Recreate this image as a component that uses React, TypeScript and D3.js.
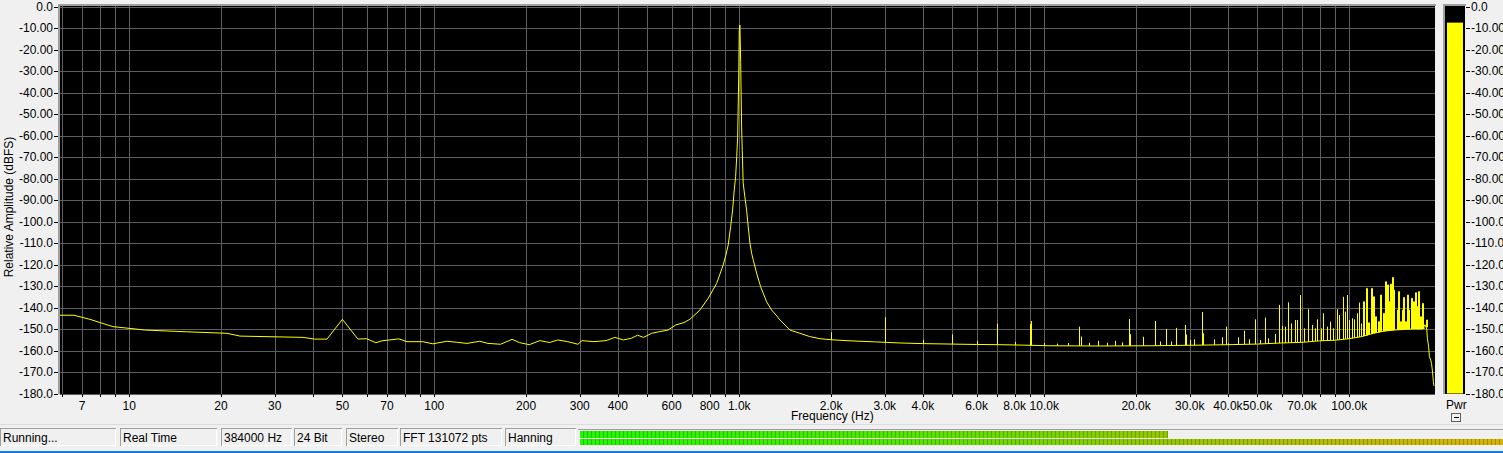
import React from 'react';
import * as d3 from 'd3';

// ---------- data ----------
const baselineHz = [5.93, 6.59, 7.43, 8.84, 11.3, 15.4, 20.9, 23.1, 37.1, 40.6, 44.5, 50, 56.2, 60, 64.4, 67.4, 76.6, 81.4, 91.8, 99, 110, 119, 128, 141, 150, 165, 180, 190, 205, 222, 239, 254, 274, 296, 305, 334, 366, 391, 417, 443, 464, 486, 516, 549, 584, 620, 659, 689, 743, 791, 843, 886, 904, 920, 937, 951, 963, 973, 981, 988, 996, 1000, 1005, 1011, 1018, 1023, 1030, 1043, 1057, 1070, 1084, 1098, 1112, 1140, 1175, 1229, 1277, 1320, 1360, 1466, 1581, 1700, 1839, 2000, 2307, 2800, 3365, 4000, 4908, 6000, 7158, 8500, 10440, 15225, 22213, 32397, 40000, 50000, 60000, 70000, 80000, 90000, 100000, 110000, 120000, 130000, 140000, 160000, 174000, 177000, 179500, 180300, 182000, 183100, 184900, 186000, 187200, 188700, 189500];
const baselineDb = [-143.6, -143.6, -145.5, -148.9, -150.5, -151.3, -152, -153.3, -153.9, -154.7, -154.7, -145.5, -154.7, -154.5, -156.4, -155.5, -154.6, -155.9, -155.9, -156.9, -155.7, -156.2, -156.7, -155.7, -156.7, -157.1, -154.8, -156.3, -157.3, -155.4, -156.3, -155.1, -155.9, -157.1, -155.4, -155.9, -155.4, -153.9, -155.1, -154.3, -152.9, -153.9, -152, -151.2, -150.5, -148.1, -147, -145.5, -141.2, -135.7, -128.8, -120.2, -115.6, -110.9, -102.4, -94.6, -85.3, -79.1, -69.8, -61, -32.3, -11, -8.6, -26, -56, -67, -82, -88.5, -94.6, -102.4, -110, -114.8, -118, -124, -130.3, -137.3, -141.2, -143.5, -145.8, -150.5, -152, -153.5, -154.5, -155, -155.5, -156, -156.5, -156.8, -157, -157.2, -157.3, -157.5, -157.8, -157.9, -157.8, -157.5, -157.3, -157, -156.5, -156.2, -155.5, -155.2, -154.5, -153.5, -152, -151, -150.5, -150, -150, -148, -150, -154.3, -158, -162.9, -164.4, -166, -169.1, -174.5, -176.5];

const spikeHz = [2000, 3000, 4000, 5000, 6000, 7000, 8000, 8990, 9060, 10000, 11000, 12000, 13000, 13150, 14000, 15000, 16000, 17000, 18000, 19000, 19150, 21000, 23000, 23150, 24000, 25000, 25150, 26000, 27000, 29000, 29200, 30000, 31000, 33000, 33200,
  36000, 38200, 39300, 40100, 43300, 45300, 47000, 49200, 51000, 52900, 54300, 57100, 59000, 60000, 61600, 63100, 64200, 66400, 67600, 68900, 71000, 73400, 75300, 77200, 78600, 80600, 82200, 84300, 86500, 88200, 90900, 92800, 95100, 96800, 98300, 100000, 102100, 103600, 105700, 107300, 109300, 111200, 113200, 115500, 117500, 119300, 121400, 123900, 126100, 128700, 131000, 132600, 134300, 136000, 137700, 139500, 143000, 144800, 146700, 148500, 150400, 152300, 154300, 156200, 159000, 161400, 164300, 166300, 168500, 170600, 172800, 174900, 178500];
const spikeDb = [-151.5, -144.5, -155, -152.5, -155.5, -147.5, -156, -147.7, -146.3, -156.5, -156.8, -156.5, -148.9, -153.5, -156.4, -155.5, -156.4, -155.5, -156.2, -145.3, -152.4, -153.6, -146.3, -153.3, -155.8, -150, -153.5, -155.8, -149.5, -148.1, -152.5, -155, -154.8, -142.1, -152,
  -154.8, -153.9, -148.9, -156.7, -153.9, -150.8, -154.8, -145.5, -155.1, -144.7, -154.3, -152.3, -138.8, -148.6, -148.9, -137.6, -147.4, -145.8, -145.8, -134.2, -149.7, -140.8, -148.1, -149.7, -145.5, -149.7, -142.7, -148.9, -146.6, -149.7, -140.8, -143.5, -135, -141.9, -134.2, -145.8, -145, -145.5, -142.7, -137.7, -147.4, -137.3, -131.1, -147.1, -131.1, -135, -144.3, -146.6, -134.2, -142.7, -128, -129.5, -137.3, -129.1, -126, -131.9, -141.2, -132.6, -146.6, -141.2, -135.3, -146.6, -134.2, -141.2, -135.7, -137.3, -133.1, -139.6, -132.6, -144.3, -138.1, -149.7, -145.8];

const yTicks = [0, -10, -20, -30, -40, -50, -60, -70, -80, -90, -100, -110, -120, -130, -140, -150, -160, -170, -180];
const xLabelTicks = [7, 10, 20, 30, 50, 70, 100, 200, 300, 400, 600, 800, 1000, 2000, 3000, 4000, 6000, 8000, 10000, 20000, 30000, 40000, 50000, 70000, 100000];
const gridMultipliers = [1, 2, 3, 4, 5, 6, 7, 8, 9];
const gridDecades = [1, 10, 100, 1000, 10000, 100000];

const pwrLevel = [-7.5];
const statusLabels = ['Running...', 'Real Time', '384000 Hz', '24 Bit', 'Stereo', 'FFT 131072 pts', 'Hanning'];
const statusLevels = [0.636, 1.0];

// ---------- layout ----------
const W = 1503, H = 453;
const PL = 60, PR = 1435, PT = 6, PB = 394;
const FONT = '"Liberation Sans", Arial, sans-serif';

const xScale = d3.scaleLog().domain([5.93, 191000]).range([PL, PR]);
const yScale = d3.scaleLinear().domain([0, -180]).range([6.5, 393.5]);
const mScale = yScale;

const fmtDb = (v: number) => (v === 0 ? '0.0' : Math.abs(v) < 100 ? v.toFixed(2) : v.toFixed(1));
const fmtHz = (v: number) => (v >= 1000 ? (v / 1000).toFixed(1) + 'k' : String(v));

const statusPanels = [[0, 116], [120, 217], [221, 292], [294, 342], [346, 398], [400, 502], [505, 576]];

export default function App() {
  const pts: [number, number][] = baselineHz.map((f, i) => [f, baselineDb[i]]);
  const line = d3.line<[number, number]>().x(d => xScale(d[0])).y(d => yScale(d[1]));
  const baseInterp = d3.scaleLog().domain(baselineHz).range(baselineDb);

  const spikePath = spikeHz.map((f, i) => {
    const x = Math.round(xScale(f)) + 0.5;
    const yb = yScale(baseInterp(f));
    const yt = yScale(spikeDb[i]);
    return f > 110000 ? `M${x},${yb}V${yt}H${x + 1}V${yb}` : `M${x},${yb}V${yt}`;
  }).join('');

  const grid: number[] = [];
  gridDecades.forEach(d => gridMultipliers.forEach(m => {
    const v = d * m;
    if (v >= 5.93 && v <= 191000) grid.push(v);
  }));

  const meterX0 = 580, meterW = W - meterX0;
  const segW = 4;
  const nSeg = Math.ceil(meterW / segW);
  const colorScale = d3.scaleLinear<string>().domain([0, 0.35, 0.64, 1]).range(['#22f800', '#55e400', '#96c600', '#d8b200']);

  return (
    <svg width={W} height={H} style={{ position: 'absolute', left: 0, top: 0, display: 'block' }} fontFamily={FONT} fontSize={12}>
      <rect x={0} y={0} width={W} height={H} fill="#f0f0f0" />
      <defs>
        <clipPath id="plotclip"><rect x={PL} y={PT} width={PR - PL} height={PB - PT} /></clipPath>
      </defs>
      <rect x={58} y={4} width={PR - 58 + 1} height={2} fill="#a0a0a0" />
      <rect x={58} y={4} width={2} height={PB - 4} fill="#a0a0a0" />
      <rect x={PL} y={PT} width={PR - PL} height={PB - PT} fill="#000" />
      <g stroke="#5e5e5e" strokeWidth={1} shapeRendering="crispEdges">
        {yTicks.map(t => {
          const y = Math.round(yScale(t)) + 0.5;
          return <line key={'h' + t} x1={PL} x2={PR} y1={y} y2={y} />;
        })}
        {grid.map(g => {
          const x = Math.round(xScale(g)) + 0.5;
          return <line key={'v' + g} x1={x} x2={x} y1={PT} y2={PB} />;
        })}
      </g>
      <g clipPath="url(#plotclip)">
        <path d={line(pts) || ''} fill="none" stroke="#ffff00" strokeWidth={1} />
        <path d={spikePath} fill="none" stroke="#ffff00" strokeWidth={1} />
      </g>
      <g>
        {yTicks.map(t => {
          const y = yScale(t);
          return (
            <g key={'yl' + t}>
              <line x1={54} x2={58} y1={Math.round(y) + 0.5} y2={Math.round(y) + 0.5} stroke="#000" shapeRendering="crispEdges" />
              <text x={53} y={y + 4.3} textAnchor="end" fill="#000">{fmtDb(t)}</text>
            </g>
          );
        })}
        <text transform="translate(13,207) rotate(-90)" textAnchor="middle" fill="#000">Relative Amplitude (dBFS)</text>
      </g>
      <g>
        {grid.map(g => {
          const x = Math.round(xScale(g)) + 0.5;
          return <line key={'xt' + g} x1={x} x2={x} y1={PB} y2={PB + 3} stroke="#000" shapeRendering="crispEdges" />;
        })}
        {xLabelTicks.map(t => (
          <text key={'xl' + t} x={xScale(t)} y={409.5} textAnchor="middle" fill="#000">{fmtHz(t)}</text>
        ))}
        <text x={791} y={420} fill="#000">Frequency (Hz)</text>
      </g>
      <g>
        <rect x={1443} y={4} width={23} height={2} fill="#a0a0a0" />
        <rect x={1443} y={4} width={2} height={PB - 4} fill="#a0a0a0" />
        <rect x={1445} y={PT} width={20} height={PB - PT} fill="#000" />
        <rect x={1447} y={mScale(pwrLevel[0])} width={16} height={mScale(-180) - mScale(pwrLevel[0])} fill="#ffff00" />
        {yTicks.map(t => {
          const y = mScale(t);
          return (
            <g key={'ml' + t}>
              <line x1={1466} x2={1470} y1={Math.round(y) + 0.5} y2={Math.round(y) + 0.5} stroke="#000" shapeRendering="crispEdges" />
              <text x={1471} y={y + 4.3} fill="#000">{fmtDb(t)}</text>
            </g>
          );
        })}
        <text x={1446} y={408.5} fill="#000">Pwr</text>
        <rect x={1451.5} y={413.5} width={9} height={8} fill="#f0f0f0" stroke="#606060" />
        <line x1={1454} x2={1459} y1={417.5} y2={417.5} stroke="#000" />
      </g>
      <line x1={0} x2={W} y1={424.5} y2={424.5} stroke="#dcdcdc" />
      {statusPanels.map((p, i) => (
        <g key={'sp' + i}>
          <rect x={p[0] + 0.5} y={428.5} width={p[1] - p[0] - 1} height={17} fill="#f0f0f0" stroke="#a0a0a0" />
          <line x1={p[0] + 1} x2={p[1]} y1={445.5} y2={445.5} stroke="#ffffff" />
          <line x1={p[1] - 0.5} x2={p[1] - 0.5} y1={429} y2={446} stroke="#ffffff" />
          <text x={p[0] + 3} y={441.5} fill="#000">{statusLabels[i]}</text>
        </g>
      ))}
      <line x1={578} x2={W} y1={429.5} y2={429.5} stroke="#a0a0a0" />
      {statusLevels.map((lvl, row) => {
        const y0 = row === 0 ? 431 : 438.5;
        const segs = [];
        for (let i = 0; i < nSeg; i++) {
          const x = meterX0 + i * segW;
          const t = (x - meterX0) / meterW;
          if (t > lvl) break;
          const c = colorScale(t);
          segs.push(<rect key={i} x={x} y={y0} width={segW - 1} height={6.5} fill={c} />);
          segs.push(<rect key={'g' + i} x={x + segW - 1} y={y0} width={1} height={6.5} fill={d3.color(c)!.darker(0.7).toString()} />);
        }
        return <g key={'row' + row} shapeRendering="crispEdges">{segs}</g>;
      })}
      <rect x={0} y={451} width={W} height={2} fill="#0f7fd9" />
    </svg>
  );
}
